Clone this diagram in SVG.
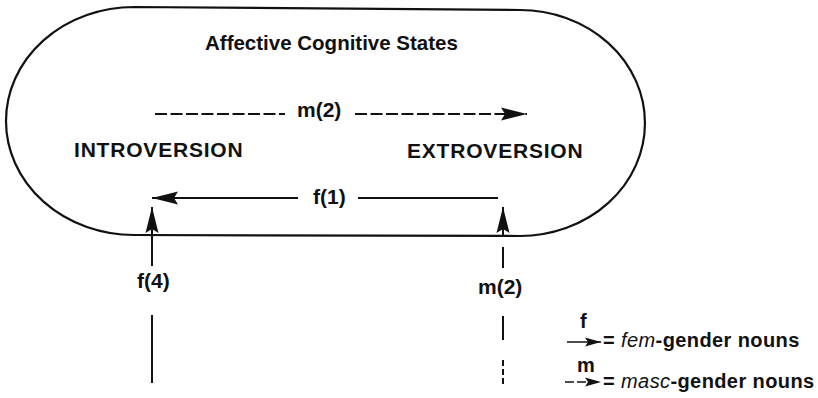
<svg xmlns="http://www.w3.org/2000/svg" width="818" height="398" viewBox="0 0 818 398">
<style>
text{font-family:"Liberation Sans",Arial,Helvetica,sans-serif;font-weight:bold;fill:#111}
.lbl{font-size:21px}
.big{font-size:21px;letter-spacing:0.8px}
.leg{font-size:20px;letter-spacing:0.4px}
.it{font-style:italic;font-weight:normal}
.ln{stroke:#111;stroke-width:2;fill:none}
.dash{stroke-dasharray:12 3.5}
.shape{stroke:#111;stroke-width:2.2;fill:none}
</style>
<defs>
<marker id="ah" viewBox="0 0 26 14" refX="26" refY="7" markerWidth="26" markerHeight="14" markerUnits="userSpaceOnUse" orient="auto">
<path d="M0,0.5 L26,7 L0,13.5 L4,7 Z" fill="#111"/>
</marker>
<marker id="ahs" viewBox="0 0 16 10" refX="16" refY="5" markerWidth="16" markerHeight="10" markerUnits="userSpaceOnUse" orient="auto">
<path d="M0,0.5 L16,5 L0,9.5 L3,5 Z" fill="#111"/>
</marker>
</defs>
<g id="states">
<path class="shape" d="M134,7 L520,10 A125,113 0 0 1 520,236 L134,235 A128,114 0 0 1 134,7 Z"/>
<text x="205" y="50" style="font-size:20.5px">Affective Cognitive States</text>
</g>
<g id="introversion"><text class="big" x="74" y="157">INTROVERSION</text></g>
<g id="extroversion"><text class="big" x="407" y="158">EXTROVERSION</text></g>
<g id="connectors">
<line class="ln dash" x1="155" y1="114" x2="285" y2="114"/>
<line class="ln dash" x1="355" y1="114" x2="527" y2="114" marker-end="url(#ah)"/>
<text class="lbl" x="297" y="117">m(2)</text>
<line class="ln" x1="498" y1="198" x2="358" y2="198"/>
<line class="ln" x1="298" y1="198" x2="152" y2="198" marker-end="url(#ah)"/>
<text class="lbl" x="313" y="204">f(1)</text>
<line class="ln" x1="152" y1="266" x2="152" y2="207" marker-end="url(#ah)"/>
<line class="ln" x1="152" y1="315" x2="152" y2="383"/>
<text class="lbl" x="137" y="288">f(4)</text>
<line class="ln" x1="503" y1="237" x2="503" y2="207" marker-end="url(#ah)"/>
<line class="ln" x1="503" y1="247" x2="503" y2="268"/>
<line class="ln" x1="503" y1="316" x2="503" y2="340"/>
<line class="ln" x1="503" y1="360" x2="503" y2="385" style="stroke-dasharray:6 3"/>
<text class="lbl" x="478" y="294">m(2)</text>
</g>
<g id="legend">
<text class="leg" x="580" y="328">f</text>
<line class="ln" x1="567" y1="342" x2="601" y2="342" style="stroke-width:1.5" marker-end="url(#ahs)"/>
<text class="leg" x="603" y="347">= <tspan class="it">fem</tspan>-gender nouns</text>
<text class="leg" x="577" y="372">m</text>
<line class="ln" x1="565" y1="382" x2="601" y2="382" style="stroke-width:1.5;stroke-dasharray:9 3" marker-end="url(#ahs)"/>
<text class="leg" x="603" y="388">= <tspan class="it">masc</tspan>-gender nouns</text>
</g>
</svg>
